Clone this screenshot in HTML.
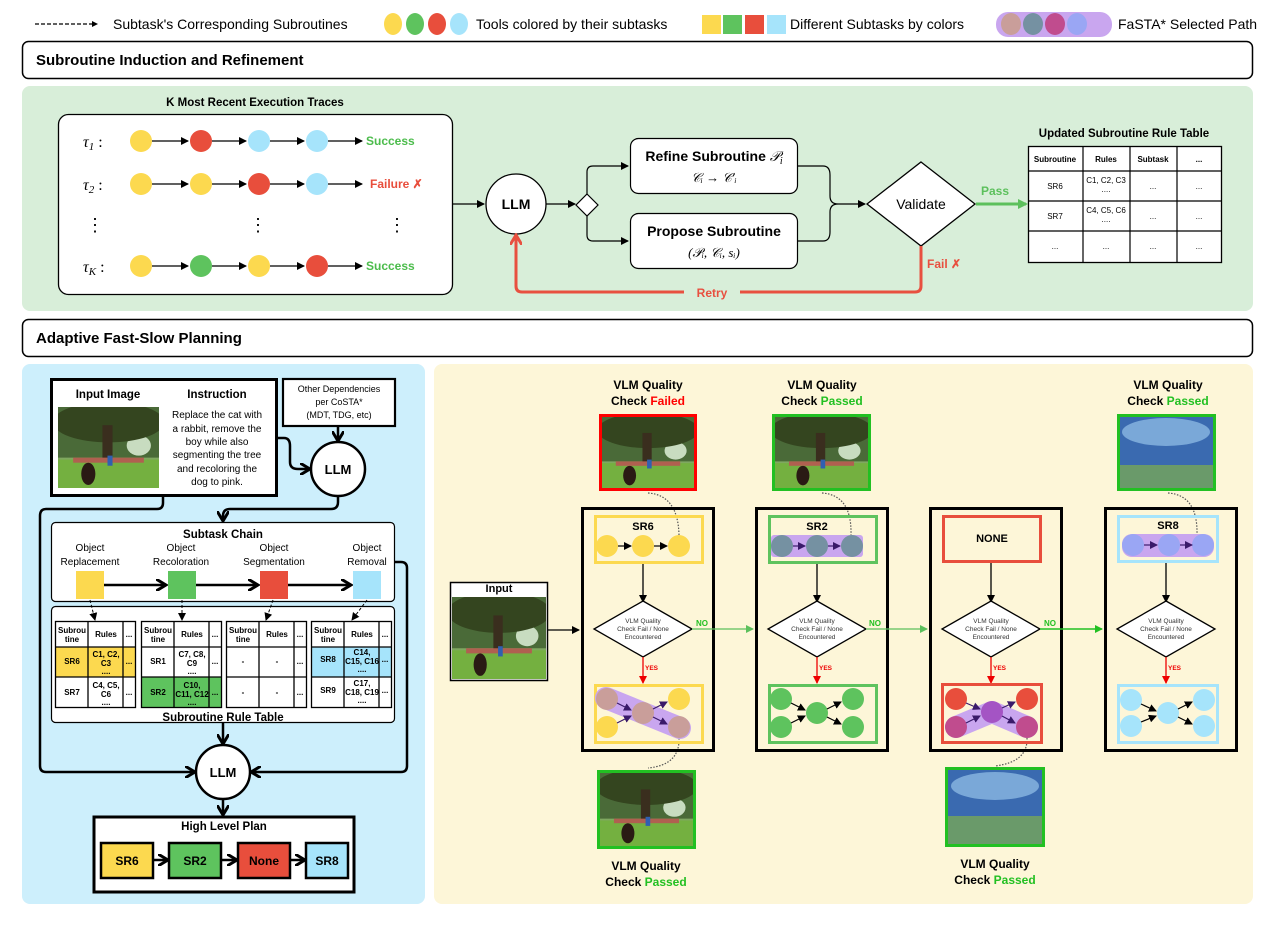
<!DOCTYPE html>
<html><head><meta charset="utf-8"><style>
html,body{margin:0;padding:0;background:#fff}
svg{display:block;font-family:"Liberation Sans",sans-serif}
.b{font-weight:bold}
</style></head><body>
<svg width="1276" height="929" viewBox="0 0 1276 929" xmlns="http://www.w3.org/2000/svg">
<defs>
<marker id="ah" markerWidth="8" markerHeight="8" refX="7" refY="4" orient="auto" markerUnits="userSpaceOnUse"><path d="M0,0 L8,4 L0,8 Z" fill="#000"/></marker>
<marker id="ahp" markerWidth="8" markerHeight="8" refX="7" refY="4" orient="auto" markerUnits="userSpaceOnUse"><path d="M0,0 L8,4 L0,8 Z" fill="#3a1a6a"/></marker>
<marker id="ahg" markerWidth="8" markerHeight="8" refX="7" refY="4" orient="auto" markerUnits="userSpaceOnUse"><path d="M0,0 L8,4 L0,8 Z" fill="#5cc05c"/></marker>
<marker id="ahg2" markerWidth="8" markerHeight="8" refX="7" refY="4" orient="auto" markerUnits="userSpaceOnUse"><path d="M0,0 L8,4 L0,8 Z" fill="#22c022"/></marker>
<marker id="ahr" markerWidth="8" markerHeight="8" refX="7" refY="4" orient="auto" markerUnits="userSpaceOnUse"><path d="M0,0 L8,4 L0,8 Z" fill="#e00"/></marker>
<marker id="ahR" markerWidth="12" markerHeight="12" refX="9" refY="6" orient="auto" markerUnits="userSpaceOnUse"><path d="M0,0 L10,6 L0,12" fill="none" stroke="#e85040" stroke-width="3"/></marker>
<marker id="ahB" markerWidth="12" markerHeight="12" refX="9" refY="6" orient="auto" markerUnits="userSpaceOnUse"><path d="M0,0 L10,6 L0,12" fill="none" stroke="#000" stroke-width="3"/></marker>
<marker id="ahG" markerWidth="10" markerHeight="10" refX="8" refY="5" orient="auto" markerUnits="userSpaceOnUse"><path d="M0,0 L10,5 L0,10 Z" fill="#5cc05c"/></marker>
<g id="photo">
<rect x="0" y="0" width="100" height="80" fill="#7fa860"/>
<rect x="0" y="0" width="100" height="50" fill="#4a6a38"/>
<ellipse cx="80" cy="38" rx="12" ry="10" fill="#c8dcc0"/>
<ellipse cx="50" cy="15" rx="55" ry="20" fill="#34451f"/>
<rect x="44" y="18" width="10" height="36" fill="#3a2e1e"/>
<rect x="0" y="52" width="100" height="28" fill="#74b040"/>
<rect x="15" y="50" width="70" height="5" fill="#b06050"/>
<ellipse cx="30" cy="66" rx="7" ry="11" fill="#2a1a14"/>
<rect x="49" y="48" width="5" height="10" fill="#3060b0"/>
</g>
</defs>

<!-- legend -->
<line x1="35" y1="24" x2="92" y2="24" stroke="#000" stroke-width="1.3" stroke-dasharray="4,2"/>
<path d="M92,21 L98,24 L92,27Z" fill="#000"/>
<text x="113" y="29" font-size="14">Subtask's Corresponding Subroutines</text>
<ellipse cx="393" cy="24" rx="9" ry="11" fill="#fcd94f"/><ellipse cx="415" cy="24" rx="9" ry="11" fill="#5ec35e"/><ellipse cx="437" cy="24" rx="9" ry="11" fill="#e84e3c"/><ellipse cx="459" cy="24" rx="9" ry="11" fill="#a6e4fb"/>
<text x="476" y="29" font-size="14">Tools colored by their subtasks</text>
<rect x="702" y="15" width="19" height="19" fill="#fcd94f"/><rect x="723" y="15" width="19" height="19" fill="#5ec35e"/><rect x="745" y="15" width="19" height="19" fill="#e84e3c"/><rect x="767" y="15" width="19" height="19" fill="#a6e4fb"/>
<text x="790" y="29" font-size="14">Different Subtasks by colors</text>
<rect x="996" y="12" width="116" height="25" rx="12" fill="#c9a6ef"/>
<ellipse cx="1011" cy="24" rx="10" ry="11" fill="#c99e9a"/><ellipse cx="1033" cy="24" rx="10" ry="11" fill="#7591a2"/><ellipse cx="1055" cy="24" rx="10" ry="11" fill="#c04c8e"/><ellipse cx="1077" cy="24" rx="10" ry="11" fill="#9aa6f4"/>
<text x="1118" y="29" font-size="14">FaSTA* Selected Path</text>

<!-- section 1 header -->
<rect x="22.5" y="41.5" width="1230" height="37" rx="6" fill="#fff" stroke="#000" stroke-width="1.5"/>
<text x="36" y="65" font-size="15" class="b">Subroutine Induction and Refinement</text>
<rect x="22" y="86" width="1231" height="225" rx="8" fill="#d8eed9"/>

<text x="255" y="106" font-size="11.5" class="b" text-anchor="middle">K Most Recent Execution Traces</text>
<rect x="58.5" y="114.5" width="394" height="180" rx="10" fill="#fff" stroke="#000" stroke-width="1.3"/>
<g font-family="Liberation Serif,serif" font-style="italic" font-size="16">
<text x="83" y="147">τ<tspan font-size="11" dy="3">1</tspan><tspan dy="-3" font-style="normal"> :</tspan></text>
<text x="83" y="190">τ<tspan font-size="11" dy="3">2</tspan><tspan dy="-3" font-style="normal"> :</tspan></text>
<text x="83" y="272">τ<tspan font-size="11" dy="3">K</tspan><tspan dy="-3" font-style="normal"> :</tspan></text>
</g>
<g font-size="18" text-anchor="middle"><text x="95" y="231">⋮</text><text x="258" y="231">⋮</text><text x="397" y="231">⋮</text></g>
<g stroke="#000" stroke-width="1.2" marker-end="url(#ah)">
<line x1="152" y1="141" x2="188" y2="141"/><line x1="212" y1="141" x2="246" y2="141"/><line x1="270" y1="141" x2="304" y2="141"/><line x1="328" y1="141" x2="362" y2="141"/>
<line x1="152" y1="184" x2="188" y2="184"/><line x1="212" y1="184" x2="246" y2="184"/><line x1="270" y1="184" x2="304" y2="184"/><line x1="328" y1="184" x2="362" y2="184"/>
<line x1="152" y1="266" x2="188" y2="266"/><line x1="212" y1="266" x2="246" y2="266"/><line x1="270" y1="266" x2="304" y2="266"/><line x1="328" y1="266" x2="362" y2="266"/>
</g>
<circle cx="141" cy="141" r="11" fill="#fcd94f"/><circle cx="201" cy="141" r="11" fill="#e84e3c"/><circle cx="259" cy="141" r="11" fill="#a6e4fb"/><circle cx="317" cy="141" r="11" fill="#a6e4fb"/>
<circle cx="141" cy="184" r="11" fill="#fcd94f"/><circle cx="201" cy="184" r="11" fill="#fcd94f"/><circle cx="259" cy="184" r="11" fill="#e84e3c"/><circle cx="317" cy="184" r="11" fill="#a6e4fb"/>
<circle cx="141" cy="266" r="11" fill="#fcd94f"/><circle cx="201" cy="266" r="11" fill="#5ec35e"/><circle cx="259" cy="266" r="11" fill="#fcd94f"/><circle cx="317" cy="266" r="11" fill="#e84e3c"/>
<text x="366" y="145" font-size="12" class="b" fill="#4cbc4c">Success</text>
<text x="370" y="188" font-size="12" class="b" fill="#e84e3c">Failure ✗</text>
<text x="366" y="270" font-size="12" class="b" fill="#4cbc4c">Success</text>

<line x1="452" y1="204" x2="484" y2="204" stroke="#000" stroke-width="1.2" marker-end="url(#ah)"/>
<circle cx="516" cy="204" r="30" fill="#fff" stroke="#000" stroke-width="1.3"/>
<text x="516" y="209" font-size="14" class="b" text-anchor="middle">LLM</text>
<line x1="546" y1="204" x2="575" y2="204" stroke="#000" stroke-width="1.2" marker-end="url(#ah)"/>
<path d="M587,194 L598,205 L587,216 L576,205Z" fill="#fff" stroke="#000" stroke-width="1.2"/>
<path d="M587,194 V172 Q587,166 593,166 H628" fill="none" stroke="#000" stroke-width="1.2" marker-end="url(#ah)"/>
<path d="M587,216 V235 Q587,241 593,241 H628" fill="none" stroke="#000" stroke-width="1.2" marker-end="url(#ah)"/>
<rect x="630.5" y="138.5" width="167" height="55" rx="8" fill="#fff" stroke="#000" stroke-width="1.2"/>
<text x="714" y="161" font-size="14" class="b" text-anchor="middle">Refine Subroutine <tspan font-family="Liberation Serif,serif" font-style="italic" font-weight="normal">𝒫<tspan font-size="10" dy="3">i</tspan></tspan></text>
<text x="714" y="182" font-size="13" font-family="Liberation Serif,serif" font-style="italic" text-anchor="middle">𝒞ᵢ → 𝒞′ᵢ</text>
<rect x="630.5" y="213.5" width="167" height="55" rx="8" fill="#fff" stroke="#000" stroke-width="1.2"/>
<text x="714" y="236" font-size="14" class="b" text-anchor="middle">Propose Subroutine</text>
<text x="714" y="257" font-size="13" font-family="Liberation Serif,serif" font-style="italic" text-anchor="middle">(𝒫ᵢ, 𝒞ᵢ, sᵢ)</text>
<path d="M797,166 H823 Q830,166 830,175 V196 Q830,204 838,204 M797,241 H823 Q830,241 830,232 V212 Q830,204 838,204 H865" fill="none" stroke="#000" stroke-width="1.2" marker-end="url(#ah)"/>
<path d="M921,162 L975,204 L921,246 L867,204Z" fill="#fff" stroke="#000" stroke-width="1.3"/>
<text x="921" y="209" font-size="14" text-anchor="middle">Validate</text>
<line x1="976" y1="204" x2="1026" y2="204" stroke="#5cc05c" stroke-width="3" marker-end="url(#ahG)"/>
<text x="981" y="195" font-size="12" class="b" fill="#5cc05c">Pass</text>
<path d="M921,246 V286 Q921,292 915,292 H740 M684,292 H522 Q516,292 516,286 V236" fill="none" stroke="#e85040" stroke-width="3" marker-end="url(#ahR)"/>
<text x="712" y="297" font-size="12" class="b" fill="#e85040" text-anchor="middle">Retry</text>
<text x="927" y="268" font-size="12" class="b" fill="#e85040">Fail ✗</text>

<text x="1124" y="137" font-size="11.5" class="b" text-anchor="middle">Updated Subroutine Rule Table</text>
<rect x="1028.5" y="146.5" width="193" height="116" fill="#fff" stroke="#000" stroke-width="1.3"/>
<g stroke="#000" stroke-width="1.2">
<line x1="1083" y1="146" x2="1083" y2="262"/><line x1="1130" y1="146" x2="1130" y2="262"/><line x1="1177" y1="146" x2="1177" y2="262"/>
<line x1="1028" y1="171" x2="1221" y2="171"/><line x1="1028" y1="201" x2="1221" y2="201"/><line x1="1028" y1="231" x2="1221" y2="231"/>
</g>
<g font-size="8" text-anchor="middle">
<text x="1055" y="162" class="b">Subroutine</text><text x="1106" y="162" class="b">Rules</text><text x="1153" y="162" class="b">Subtask</text><text x="1199" y="162" class="b">...</text>
<text x="1055" y="189">SR6</text><text x="1106" y="183">C1, C2, C3</text><text x="1106" y="192">....</text><text x="1153" y="189">...</text><text x="1199" y="189">...</text>
<text x="1055" y="219">SR7</text><text x="1106" y="213">C4, C5, C6</text><text x="1106" y="222">....</text><text x="1153" y="219">...</text><text x="1199" y="219">...</text>
<text x="1055" y="249">...</text><text x="1106" y="249">...</text><text x="1153" y="249">...</text><text x="1199" y="249">...</text>
</g>

<!-- section 2 header -->
<rect x="22.5" y="319.5" width="1230" height="37" rx="6" fill="#fff" stroke="#000" stroke-width="1.5"/>
<text x="36" y="343" font-size="15" class="b">Adaptive Fast-Slow Planning</text>

<!-- left blue panel -->
<rect x="22" y="364" width="403" height="540" rx="8" fill="#cdeffc"/>
<rect x="51.5" y="379.5" width="225" height="116" fill="#fff" stroke="#000" stroke-width="3"/>
<text x="108" y="398" font-size="11.5" class="b" text-anchor="middle">Input Image</text>
<text x="217" y="398" font-size="11.5" class="b" text-anchor="middle">Instruction</text>
<svg x="58" y="407" width="101" height="81" viewBox="0 0 100 80" preserveAspectRatio="none"><use href="#photo"/></svg>
<g font-size="10" text-anchor="middle">
<text x="217" y="418">Replace the cat with</text><text x="217" y="432">a rabbit, remove the</text><text x="217" y="445">boy while also</text><text x="217" y="458">segmenting the tree</text><text x="217" y="472">and recoloring the</text><text x="217" y="485">dog to pink.</text>
</g>
<rect x="283" y="379" width="112" height="47" fill="#fff" stroke="#000" stroke-width="2.2"/>
<g font-size="9" text-anchor="middle"><text x="339" y="392">Other Dependencies</text><text x="339" y="405">per CoSTA*</text><text x="339" y="418">(MDT, TDG, etc)</text></g>
<line x1="338" y1="427" x2="338" y2="440" stroke="#000" stroke-width="2.5" marker-end="url(#ahB)"/>
<path d="M277,438 H284 Q290,438 290,446 V462 Q290,469 298,469 H309" fill="none" stroke="#000" stroke-width="2.5" marker-end="url(#ahB)"/>
<circle cx="338" cy="469" r="27" fill="#fff" stroke="#000" stroke-width="2.5"/>
<text x="338" y="474" font-size="13" class="b" text-anchor="middle">LLM</text>
<path d="M338,496 V502 Q338,509 331,509 H230 Q223,509 223,516 V520" fill="none" stroke="#000" stroke-width="2.5" marker-end="url(#ahB)"/>
<path d="M163,496 V503 Q163,509 157,509 H46 Q40,509 40,516 V766 Q40,772 46,772 H194" fill="none" stroke="#000" stroke-width="2.5" marker-end="url(#ahB)"/>
<path d="M395,562 H401 Q407,562 407,568 V766 Q407,772 401,772 H252" fill="none" stroke="#000" stroke-width="2.5" marker-end="url(#ahB)"/>

<rect x="51.5" y="522.5" width="343" height="79" rx="4" fill="#fff" stroke="#000" stroke-width="1.2"/>
<text x="223" y="538" font-size="11.5" class="b" text-anchor="middle">Subtask Chain</text>
<g font-size="10" text-anchor="middle">
<text x="90" y="551">Object</text><text x="90" y="565">Replacement</text>
<text x="181" y="551">Object</text><text x="181" y="565">Recoloration</text>
<text x="274" y="551">Object</text><text x="274" y="565">Segmentation</text>
<text x="367" y="551">Object</text><text x="367" y="565">Removal</text>
</g>
<rect x="76" y="571" width="28" height="28" fill="#fcd94f"/><rect x="168" y="571" width="28" height="28" fill="#5ec35e"/><rect x="260" y="571" width="28" height="28" fill="#e84e3c"/><rect x="353" y="571" width="28" height="28" fill="#a6e4fb"/>
<g stroke="#000" stroke-width="2.5" marker-end="url(#ahB)"><line x1="104" y1="585" x2="165" y2="585"/><line x1="196" y1="585" x2="257" y2="585"/><line x1="288" y1="585" x2="350" y2="585"/></g>
<rect x="51.5" y="606.5" width="343" height="116" rx="4" fill="#fff" stroke="#000" stroke-width="1.2"/>
<g stroke="#000" stroke-width="1" stroke-dasharray="3,2" marker-end="url(#ah)" fill="none"><line x1="90" y1="600" x2="95" y2="620"/><line x1="182" y1="600" x2="182" y2="620"/><line x1="273" y1="600" x2="266" y2="620"/><line x1="367" y1="600" x2="352" y2="620"/></g>
<text x="223" y="721" font-size="11.5" class="b" text-anchor="middle">Subroutine Rule Table</text>

<!-- four small tables -->
<g font-size="8" text-anchor="middle">
<rect x="55" y="647" width="81" height="30" fill="#fcd94f"/>
<rect x="141" y="677" width="80" height="31" fill="#5ec35e"/>
<rect x="311" y="647" width="80" height="30" fill="#a6e4fb"/>
<g fill="none" stroke="#000" stroke-width="1.3">
<rect x="55.5" y="621.5" width="80" height="86"/><line x1="88" y1="621" x2="88" y2="708"/><line x1="123" y1="621" x2="123" y2="708"/><line x1="55" y1="647" x2="136" y2="647"/><line x1="55" y1="677" x2="136" y2="677"/>
<rect x="141.5" y="621.5" width="80" height="86"/><line x1="174" y1="621" x2="174" y2="708"/><line x1="209" y1="621" x2="209" y2="708"/><line x1="141" y1="647" x2="221" y2="647"/><line x1="141" y1="677" x2="221" y2="677"/>
<rect x="226.5" y="621.5" width="80" height="86"/><line x1="259" y1="621" x2="259" y2="708"/><line x1="294" y1="621" x2="294" y2="708"/><line x1="226" y1="647" x2="306" y2="647"/><line x1="226" y1="677" x2="306" y2="677"/>
<rect x="311.5" y="621.5" width="80" height="86"/><line x1="344" y1="621" x2="344" y2="708"/><line x1="379" y1="621" x2="379" y2="708"/><line x1="311" y1="647" x2="391" y2="647"/><line x1="311" y1="677" x2="391" y2="677"/>
</g>
<g class="b">
<text x="72" y="633">Subrou</text><text x="72" y="642">tine</text><text x="106" y="637">Rules</text><text x="129" y="637">...</text>
<text x="72" y="664">SR6</text><text x="106" y="657">C1, C2,</text><text x="106" y="666">C3</text><text x="106" y="674">....</text><text x="129" y="664">...</text>
<text x="72" y="695">SR7</text><text x="106" y="688">C4, C5,</text><text x="106" y="697">C6</text><text x="106" y="705">....</text><text x="129" y="695">...</text>
<text x="158" y="633">Subrou</text><text x="158" y="642">tine</text><text x="192" y="637">Rules</text><text x="215" y="637">...</text>
<text x="158" y="664">SR1</text><text x="192" y="657">C7, C8,</text><text x="192" y="666">C9</text><text x="192" y="674">....</text><text x="215" y="664">...</text>
<text x="158" y="695">SR2</text><text x="192" y="688">C10,</text><text x="192" y="697">C11, C12</text><text x="192" y="705">....</text><text x="215" y="695">...</text>
<text x="243" y="633">Subrou</text><text x="243" y="642">tine</text><text x="277" y="637">Rules</text><text x="300" y="637">...</text>
<text x="243" y="664">-</text><text x="277" y="664">-</text><text x="300" y="664">...</text>
<text x="243" y="695">-</text><text x="277" y="695">-</text><text x="300" y="695">...</text>
<text x="328" y="633">Subrou</text><text x="328" y="642">tine</text><text x="362" y="637">Rules</text><text x="385" y="637">...</text>
<text x="328" y="662">SR8</text><text x="362" y="655">C14,</text><text x="362" y="664">C15, C16</text><text x="362" y="672">....</text><text x="385" y="662">...</text>
<text x="328" y="693">SR9</text><text x="362" y="686">C17,</text><text x="362" y="695">C18, C19</text><text x="362" y="703">....</text><text x="385" y="693">...</text>
</g>
</g>
<line x1="223" y1="723" x2="223" y2="743" stroke="#000" stroke-width="2.5" marker-end="url(#ahB)"/>
<circle cx="223" cy="772" r="27" fill="#fff" stroke="#000" stroke-width="2.5"/>
<text x="223" y="777" font-size="13" class="b" text-anchor="middle">LLM</text>
<line x1="223" y1="799" x2="223" y2="814" stroke="#000" stroke-width="2.5" marker-end="url(#ahB)"/>
<rect x="94" y="817" width="260" height="75" fill="#fff" stroke="#000" stroke-width="3"/>
<text x="224" y="830" font-size="11.5" class="b" text-anchor="middle">High Level Plan</text>
<rect x="101" y="843" width="52" height="35" fill="#fcd94f" stroke="#000" stroke-width="2.5"/>
<rect x="169" y="843" width="52" height="35" fill="#5ec35e" stroke="#000" stroke-width="2.5"/>
<rect x="238" y="843" width="52" height="35" fill="#e84e3c" stroke="#000" stroke-width="2.5"/>
<rect x="306" y="843" width="42" height="35" fill="#a6e4fb" stroke="#000" stroke-width="2.5"/>
<g font-size="12" class="b" text-anchor="middle"><text x="127" y="865">SR6</text><text x="195" y="865">SR2</text><text x="264" y="865">None</text><text x="327" y="865">SR8</text></g>
<g stroke="#000" stroke-width="2.5" marker-end="url(#ahB)"><line x1="154" y1="860" x2="167" y2="860"/><line x1="222" y1="860" x2="236" y2="860"/><line x1="291" y1="860" x2="304" y2="860"/></g>

<!-- right yellow panel -->
<rect x="434" y="364" width="819" height="540" rx="8" fill="#fdf6d8"/>
<rect x="450.5" y="582.5" width="97" height="98" fill="#fff" stroke="#000" stroke-width="1.5"/>
<text x="499" y="592" font-size="11" class="b" text-anchor="middle">Input</text>
<svg x="452" y="597" width="94" height="82" viewBox="0 0 100 80" preserveAspectRatio="none"><use href="#photo"/></svg>
<line x1="548" y1="630" x2="579" y2="630" stroke="#000" stroke-width="1.3" marker-end="url(#ah)"/>

<g font-size="12" class="b" text-anchor="middle">
<text x="648" y="389">VLM Quality</text><text x="648" y="405">Check <tspan fill="#f00">Failed</tspan></text>
<text x="822" y="389">VLM Quality</text><text x="822" y="405">Check <tspan fill="#22c022">Passed</tspan></text>
<text x="1168" y="389">VLM Quality</text><text x="1168" y="405">Check <tspan fill="#22c022">Passed</tspan></text>
<text x="646" y="870">VLM Quality</text><text x="646" y="886">Check <tspan fill="#22c022">Passed</tspan></text>
<text x="995" y="868">VLM Quality</text><text x="995" y="884">Check <tspan fill="#22c022">Passed</tspan></text>
</g>
<rect x="599" y="414" width="98" height="77" fill="#f00"/><svg x="602" y="417" width="92" height="71" viewBox="0 0 100 80" preserveAspectRatio="none"><use href="#photo"/></svg>
<rect x="772" y="414" width="99" height="77" fill="#22c022"/><svg x="775" y="417" width="93" height="71" viewBox="0 0 100 80" preserveAspectRatio="none"><use href="#photo"/></svg>
<rect x="1117" y="414" width="99" height="77" fill="#22c022"/><rect x="1120" y="417" width="93" height="71" fill="#3a6ab0"/><ellipse cx="1166" cy="432" rx="44" ry="14" fill="#7aa8d8"/><rect x="1120" y="465" width="93" height="23" fill="#6a9a6a"/>
<rect x="597" y="770" width="99" height="79" fill="#22c022"/><svg x="600" y="773" width="93" height="73" viewBox="0 0 100 80" preserveAspectRatio="none"><use href="#photo"/></svg>
<rect x="945" y="767" width="100" height="80" fill="#22c022"/><rect x="948" y="770" width="94" height="74" fill="#3a6ab0"/><ellipse cx="995" cy="786" rx="44" ry="14" fill="#7aa8d8"/><rect x="948" y="816" width="94" height="28" fill="#6a9a6a"/>

<g fill="none" stroke="#555" stroke-width="1.2" stroke-dasharray="1.5,1.5">
<path d="M648,493 Q678,495 679,535"/><path d="M822,493 Q852,495 851,535"/><path d="M1168,493 Q1198,495 1197,535"/>
<path d="M679,738 Q680,765 648,768"/><path d="M1027,738 Q1028,762 995,766"/>
</g>

<g id="col1" transform="translate(581,0)">
<rect x="1.5" y="508.5" width="131" height="242" fill="none" stroke="#000" stroke-width="3"/>
<path d="M62,563 V602" stroke="#000" stroke-width="1.3" marker-end="url(#ah)"/>
<path d="M62,601 L111,629 L62,657 L13,629Z" fill="#fff" stroke="#000" stroke-width="1.3"/>
<g font-size="6.5" text-anchor="middle" fill="#333"><text x="62" y="623">VLM Quality</text><text x="62" y="631">Check Fail / None</text><text x="62" y="639">Encountered</text></g>
<path d="M62,657 V683" stroke="#e00" stroke-width="1.3" marker-end="url(#ahr)"/>
<text x="64" y="670" font-size="6.5" class="b" fill="#e00">YES</text>
</g>
<use href="#col1" transform="translate(174,0)"/>
<use href="#col1" transform="translate(348,0)"/>
<use href="#col1" transform="translate(523,0)"/>
<g font-size="8" class="b" fill="#22c022"><text x="696" y="626">NO</text><text x="869" y="626">NO</text><text x="1044" y="626">NO</text></g>
<line x1="692" y1="629" x2="753" y2="629" stroke="#5cc05c" stroke-width="1.3" marker-end="url(#ahg)"/>
<line x1="866" y1="629" x2="927" y2="629" stroke="#5cc05c" stroke-width="1.3" marker-end="url(#ahg)"/>
<line x1="1040" y1="629" x2="1102" y2="629" stroke="#22c022" stroke-width="1.5" marker-end="url(#ahg2)"/>

<!-- col1 contents -->
<rect x="595.5" y="516.5" width="107" height="46" fill="none" stroke="#fcd94f" stroke-width="3"/>
<text x="643" y="530" font-size="11" class="b" text-anchor="middle">SR6</text>
<circle cx="607" cy="546" r="11" fill="#fcd94f"/><circle cx="643" cy="546" r="11" fill="#fcd94f"/><circle cx="679" cy="546" r="11" fill="#fcd94f"/>
<g stroke="#000" stroke-width="1.2" marker-end="url(#ah)"><line x1="618" y1="546" x2="631" y2="546"/><line x1="654" y1="546" x2="667" y2="546"/></g>
<rect x="595.5" y="685.5" width="107" height="57" fill="none" stroke="#fcd94f" stroke-width="3"/>
<path d="M606,698 L680,728" stroke="#c9a6ef" stroke-width="22" stroke-linecap="round"/>
<circle cx="607" cy="699" r="11" fill="#c99e9a"/><circle cx="607" cy="727" r="11" fill="#fcd94f"/><circle cx="643" cy="713" r="11" fill="#c99e9a"/><circle cx="679" cy="699" r="11" fill="#fcd94f"/><circle cx="679" cy="727" r="11" fill="#c99e9a"/>
<g stroke="#3a1a6a" stroke-width="1.2" marker-end="url(#ahp)"><line x1="617" y1="703" x2="631" y2="710"/><line x1="617" y1="723" x2="631" y2="716"/><line x1="653" y1="709" x2="667" y2="702"/><line x1="653" y1="717" x2="667" y2="724"/></g>

<!-- col2 contents -->
<rect x="769.5" y="516.5" width="107" height="46" fill="none" stroke="#5ec35e" stroke-width="3"/>
<text x="817" y="530" font-size="11" class="b" text-anchor="middle">SR2</text>
<rect x="771" y="535" width="92" height="22" rx="3" fill="#c9a6ef"/>
<circle cx="782" cy="546" r="11" fill="#7591a2"/><circle cx="817" cy="546" r="11" fill="#7591a2"/><circle cx="852" cy="546" r="11" fill="#7591a2"/>
<g stroke="#3a1a6a" stroke-width="1.2" marker-end="url(#ahp)"><line x1="793" y1="546" x2="805" y2="546"/><line x1="828" y1="546" x2="840" y2="546"/></g>
<rect x="769.5" y="685.5" width="107" height="57" fill="none" stroke="#5ec35e" stroke-width="3"/>
<circle cx="781" cy="699" r="11" fill="#5ec35e"/><circle cx="781" cy="727" r="11" fill="#5ec35e"/><circle cx="817" cy="713" r="11" fill="#5ec35e"/><circle cx="853" cy="699" r="11" fill="#5ec35e"/><circle cx="853" cy="727" r="11" fill="#5ec35e"/>
<g stroke="#000" stroke-width="1.2" marker-end="url(#ah)"><line x1="791" y1="703" x2="805" y2="710"/><line x1="791" y1="723" x2="805" y2="716"/><line x1="827" y1="709" x2="841" y2="702"/><line x1="827" y1="717" x2="841" y2="724"/></g>

<!-- col3 contents -->
<rect x="943.5" y="516.5" width="97" height="45" fill="none" stroke="#e84e3c" stroke-width="3"/>
<text x="992" y="542" font-size="11" class="b" text-anchor="middle">NONE</text>
<rect x="942.5" y="684.5" width="99" height="58" fill="none" stroke="#e84e3c" stroke-width="3"/>
<path d="M956,727 L992,712 L1027,727" fill="none" stroke="#c9a6ef" stroke-width="22" stroke-linecap="round" stroke-linejoin="round"/>
<circle cx="956" cy="699" r="11" fill="#e84e3c"/><circle cx="956" cy="727" r="11" fill="#c04c8e"/><circle cx="992" cy="712" r="11" fill="#a454c4"/><circle cx="1027" cy="699" r="11" fill="#e84e3c"/><circle cx="1027" cy="727" r="11" fill="#c04c8e"/>
<g stroke="#3a1a6a" stroke-width="1.2" marker-end="url(#ahp)"><line x1="966" y1="703" x2="980" y2="709"/><line x1="966" y1="723" x2="980" y2="716"/><line x1="1002" y1="708" x2="1015" y2="702"/><line x1="1002" y1="716" x2="1015" y2="723"/></g>

<!-- col4 contents -->
<rect x="1118.5" y="516.5" width="99" height="45" fill="none" stroke="#a6e4fb" stroke-width="3"/>
<text x="1168" y="529" font-size="11" class="b" text-anchor="middle">SR8</text>
<rect x="1122" y="534" width="92" height="23" rx="10" fill="#c9a6ef"/>
<circle cx="1133" cy="545" r="11" fill="#9aa6f4"/><circle cx="1169" cy="545" r="11" fill="#9aa6f4"/><circle cx="1203" cy="545" r="11" fill="#9aa6f4"/>
<g stroke="#3a1a6a" stroke-width="1.2" marker-end="url(#ahp)"><line x1="1144" y1="545" x2="1157" y2="545"/><line x1="1180" y1="545" x2="1192" y2="545"/></g>
<rect x="1118.5" y="685.5" width="99" height="57" fill="none" stroke="#a6e4fb" stroke-width="3"/>
<circle cx="1131" cy="700" r="11" fill="#a6e4fb"/><circle cx="1131" cy="726" r="11" fill="#a6e4fb"/><circle cx="1168" cy="713" r="11" fill="#a6e4fb"/><circle cx="1204" cy="700" r="11" fill="#a6e4fb"/><circle cx="1204" cy="726" r="11" fill="#a6e4fb"/>
<g stroke="#000" stroke-width="1.2" marker-end="url(#ah)"><line x1="1141" y1="704" x2="1156" y2="711"/><line x1="1141" y1="722" x2="1156" y2="716"/><line x1="1178" y1="709" x2="1192" y2="702"/><line x1="1178" y1="717" x2="1192" y2="724"/></g>
</svg>
</body></html>
